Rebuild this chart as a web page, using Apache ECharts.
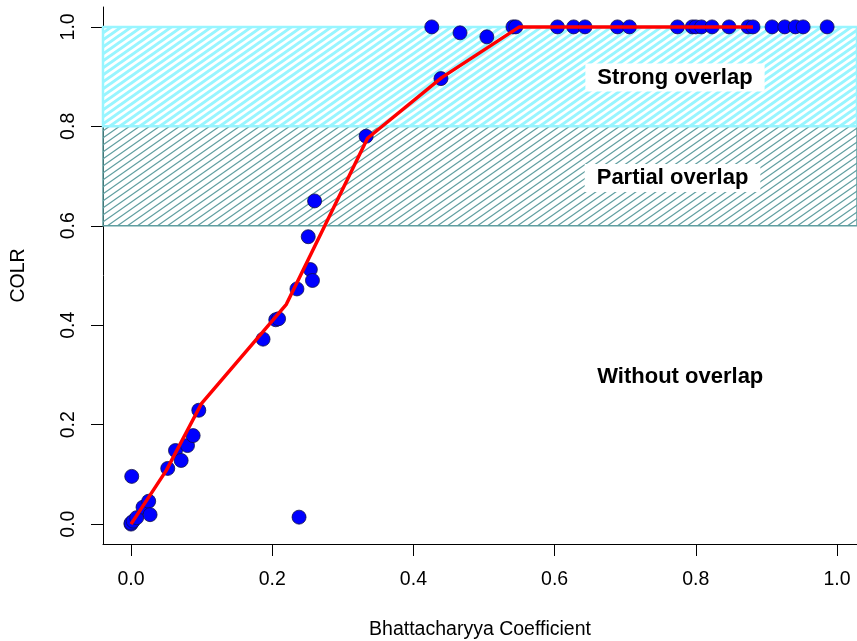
<!DOCTYPE html>
<html>
<head>
<meta charset="utf-8">
<script src="https://cdn.jsdelivr.net/npm/echarts@6/dist/echarts.min.js"></script>
<style>
  html, body { margin: 0; padding: 0; background: #fff; }
  #chart { width: 857px; height: 641px; }
</style>
</head>
<body>
<div id="chart"></div>
<script>
// ---- data ----
const bcValues = [0, 0, 0.003, 0.008, 0.017, 0.025, 0.027, 0.001, 0.052, 0.063, 0.071, 0.080, 0.088, 0.096,
  0.187, 0.205, 0.209, 0.235, 0.238, 0.251, 0.254, 0.257, 0.260, 0.333, 0.439, 0.426, 0.466, 0.504,
  0.541, 0.545, 0.604, 0.627, 0.643, 0.689, 0.706, 0.774, 0.795, 0.800, 0.808, 0.823, 0.847, 0.874, 0.881,
  0.908, 0.926, 0.941, 0.952, 0.986];
const colrValues = [0, 0.002, 0.006, 0.013, 0.034, 0.046, 0.019, 0.096, 0.112, 0.148, 0.128, 0.158, 0.178, 0.229,
  0.372, 0.411, 0.413, 0.473, 0.014, 0.578, 0.512, 0.490, 0.650, 0.780, 0.896, 1.0, 0.988, 0.980,
  1.0, 1.0, 1.0, 1.0, 1.0, 1.0, 1.0, 1.0, 1.0, 1.0, 1.0, 1.0, 1.0, 1.0, 1.0,
  1.0, 1.0, 1.0, 1.0, 1.0];
const fitX = [0, 0.05, 0.10, 0.22, 0.24, 0.335, 0.44, 0.55, 0.881];
const fitY = [0, 0.108, 0.243, 0.442, 0.500, 0.776, 0.898, 1.0, 1.0];
const tickValues = [0, 0.2, 0.4, 0.6, 0.8, 1.0];
const zoneNames = ['Partial overlap', 'Strong overlap'];
const zoneLow = [0.6, 0.8];
const zoneHigh = [0.8, 1.0];
const regionLabels = ['Strong overlap', 'Partial overlap', 'Without overlap'];
const regionLabelX = [0.7705, 0.767, 0.778];
const regionLabelY = [0.898, 0.696, 0.296];

// ---- styling helpers ----
function hatch(color, lw, W, H) {
  const c = document.createElement('canvas');
  c.width = W; c.height = H;
  const ctx = c.getContext('2d');
  ctx.strokeStyle = color; ctx.lineWidth = lw;
  for (let k = -1; k <= 1; k++) {
    ctx.beginPath();
    ctx.moveTo(-W, 2 * H + k * H);
    ctx.lineTo(2 * W, -H + k * H);
    ctx.stroke();
  }
  return c;
}
const zoneStyles = [
  { fill: hatch('#5F9EA0', 1.2, 10, 7), border: '#5F9EA0', bw: 1.5 },
  { fill: hatch('#98F5FF', 3, 10, 7), border: '#98F5FF', bw: 2.5 }
];

const FONT = 'Liberation Sans, Arial, sans-serif';
const chart = echarts.init(document.getElementById('chart'), null, { renderer: 'canvas' });

const pts = bcValues.map((x, i) => [x, colrValues[i]]);
const fit = fitX.map((x, i) => [x, fitY[i]]);

const zoneSeries = zoneNames.map((nm, i) => ({
  type: 'line', name: nm, data: [], silent: true, z: 1,
  markArea: {
    silent: true,
    itemStyle: { color: { image: zoneStyles[i].fill, repeat: 'repeat' }, opacity: 1,
      borderColor: zoneStyles[i].border, borderWidth: zoneStyles[i].bw },
    data: [[{ xAxis: 'min', yAxis: zoneLow[i] }, { xAxis: 'max', yAxis: zoneHigh[i] }]]
  }
}));

const axisCommon = {
  type: 'value',
  splitLine: { show: false },
  axisLine: { show: true, onZero: false, lineStyle: { color: '#000', width: 1 } },
  axisTick: { show: true, customValues: tickValues, length: 12, lineStyle: { color: '#000', width: 1 } },
  axisLabel: { customValues: tickValues, formatter: v => v.toFixed(1), fontSize: 19.5, color: '#000', fontFamily: FONT, margin: 26 },
  nameLocation: 'middle',
  nameTextStyle: { fontSize: 19.5, color: '#000', fontFamily: FONT }
};

chart.setOption({
  animation: false,
  backgroundColor: '#fff',
  grid: { left: 103, right: 0, top: 7, bottom: 97, containLabel: false, outerBoundsMode: 'none' },
  xAxis: Object.assign({}, axisCommon, { min: -0.0397, max: 1.0283, name: 'Bhattacharyya Coefficient', nameGap: 76 }),
  yAxis: Object.assign({}, axisCommon, {
    min: -0.04, max: 1.04, name: 'COLR', nameGap: 74,
    axisLabel: Object.assign({}, axisCommon.axisLabel, { rotate: 90, margin: 24 })
  }),
  series: zoneSeries.concat([
    {
      type: 'scatter', name: 'points', data: pts, z: 3,
      symbol: 'circle', symbolSize: 14,
      itemStyle: { color: '#0000FF', borderColor: '#10104a', borderWidth: 0.8, opacity: 1 }
    },
    {
      type: 'line', name: 'fit', data: fit, z: 4, showSymbol: false, symbol: 'none',
      lineStyle: { color: '#FF0000', width: 3.5 }
    },
    {
      type: 'scatter', name: 'labels', z: 5, symbolSize: 0, silent: true,
      itemStyle: { opacity: 1 },
      data: regionLabels.map((t, i) => ({ name: t, value: [regionLabelX[i], regionLabelY[i]] })),
      label: {
        show: true, position: 'inside', formatter: p => p.name, opacity: 1,
        fontSize: 22, fontWeight: 'bold', color: '#000', fontFamily: FONT,
        backgroundColor: '#fff', padding: [3, 12], lineHeight: 22
      }
    }
  ])
});
</script>
</body>
</html>
